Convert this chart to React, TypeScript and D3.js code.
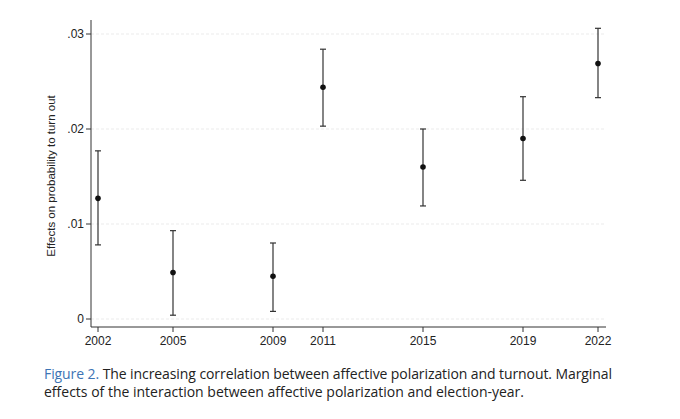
import * as d3 from "d3";
import * as React from "react";

const years = [2002, 2005, 2009, 2011, 2015, 2019, 2022];
const estimates = [0.0127, 0.0049, 0.0045, 0.0244, 0.016, 0.019, 0.0269];
const lower = [0.0078, 0.0004, 0.0008, 0.0203, 0.0119, 0.0146, 0.0233];
const upper = [0.0177, 0.0093, 0.008, 0.0284, 0.02, 0.0234, 0.0306];
const yTicks = [0, 0.01, 0.02, 0.03];
const yTickLabels = ["0", ".01", ".02", ".03"];

export default function App() {
  const x = d3.scaleLinear().domain([2002, 2022]).range([98, 598]);
  const y = d3.scaleLinear().domain([0, 0.03]).range([319, 34]);
  const axisY = 327;
  const axisX = 91;
  const font = "Liberation Sans, Arial, sans-serif";

  return (
    <svg width={680} height={419} style={{ position: "absolute", left: 0, top: 0 }}>
      <rect width={680} height={419} fill="#fff" />
      {yTicks.map((t, i) => (
        <g key={i}>
          <line x1={axisX} x2={606} y1={y(t)} y2={y(t)} stroke="#e6e6e6" strokeWidth={0.8} strokeDasharray="3,2" />
          <line x1={axisX - 5} x2={axisX} y1={y(t)} y2={y(t)} stroke="#333" />
          <text x={axisX - 7} y={y(t)} textAnchor="end" dominantBaseline="central" fontSize={12} fontFamily={font} fill="#222">
            {yTickLabels[i]}
          </text>
        </g>
      ))}
      <line x1={axisX} x2={axisX} y1={20} y2={axisY} stroke="#333" />
      <line x1={axisX} x2={606} y1={axisY} y2={axisY} stroke="#333" />
      {years.map((yr, i) => (
        <g key={yr}>
          <line x1={x(yr)} x2={x(yr)} y1={axisY} y2={axisY + 5} stroke="#333" />
          <text x={x(yr)} y={axisY + 18} textAnchor="middle" fontSize={12} fontFamily={font} fill="#222">
            {yr}
          </text>
          <line x1={x(yr)} x2={x(yr)} y1={y(lower[i])} y2={y(upper[i])} stroke="#333" strokeWidth={1.2} />
          <line x1={x(yr) - 3} x2={x(yr) + 3} y1={y(lower[i])} y2={y(lower[i])} stroke="#333" strokeWidth={1.2} />
          <line x1={x(yr) - 3} x2={x(yr) + 3} y1={y(upper[i])} y2={y(upper[i])} stroke="#333" strokeWidth={1.2} />
          <circle cx={x(yr)} cy={y(estimates[i])} r={2.8} fill="#111" />
        </g>
      ))}
      <text transform={`translate(55,176) rotate(-90)`} textAnchor="middle" fontSize={11.5} fontFamily={font} fill="#222">
        Effects on probability to turn out
      </text>
      <text x={44} y={379} fontSize={14} fontFamily="Open Sans, sans-serif" fill="#222" textLength={568} lengthAdjust="spacing">
        <tspan fill="#3d74b5">Figure 2.</tspan> The increasing correlation between affective polarization and turnout. Marginal
      </text>
      <text x={44} y={397} fontSize={14} fontFamily="Open Sans, sans-serif" fill="#222">
        effects of the interaction between affective polarization and election-year.
      </text>
    </svg>
  );
}
